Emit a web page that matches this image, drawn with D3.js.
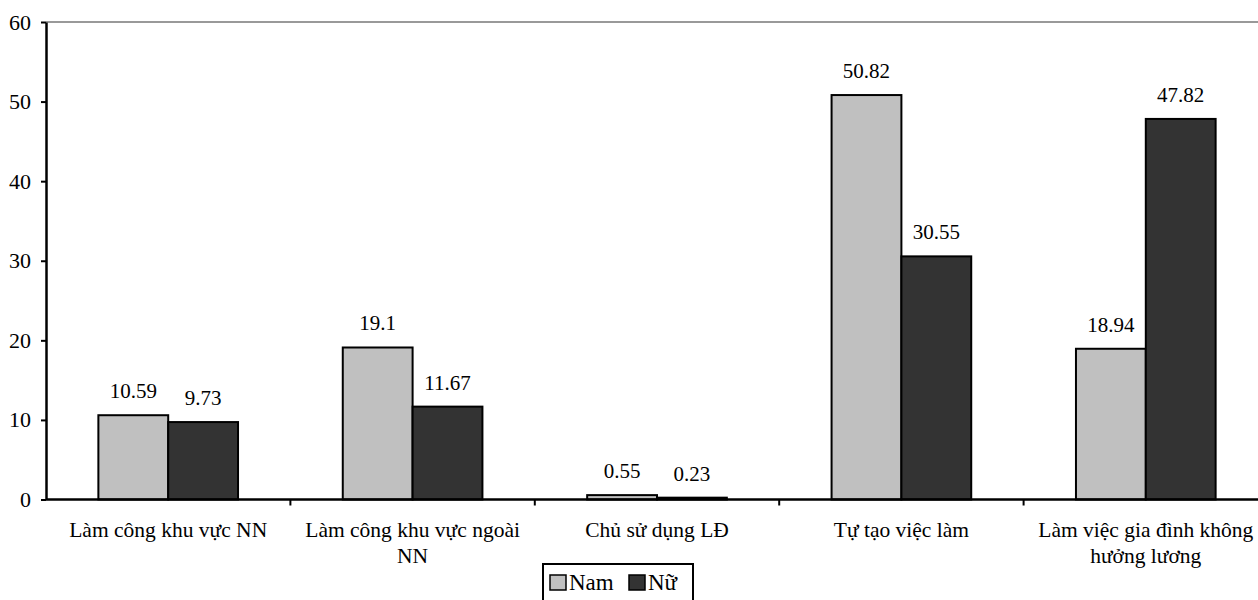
<!DOCTYPE html>
<html>
<head>
<meta charset="utf-8">
<script src="https://cdn.jsdelivr.net/npm/d3@7"></script>
<style>
  body { margin: 0; background: #fff; }
</style>
</head>
<body>
<svg id="chart"></svg>
<script>
const categories = [
  ["Làm công khu vực NN"],
  ["Làm công khu vực ngoài", "NN"],
  ["Chủ sử dụng LĐ"],
  ["Tự tạo việc làm"],
  ["Làm việc gia đình không", "hưởng lương"]
];
const namValues = [10.59, 19.1, 0.55, 50.82, 18.94];
const nuValues = [9.73, 11.67, 0.23, 30.55, 47.82];
const seriesNames = ["Nam", "Nữ"];
const seriesColors = ["#c0c0c0", "#333333"];
const yTicks = [0, 10, 20, 30, 40, 50, 60];

const width = 1258, height = 600;
const margin = { top: 22, left: 46 };
const plotRight = 1268;
const font = `"Liberation Serif", "Times New Roman", serif`;

const svg = d3.select("#chart")
  .attr("width", width).attr("height", height);

const x = d3.scaleBand()
  .domain(d3.range(categories.length))
  .range([margin.left, plotRight]);

// two bars per group, Excel-like gap width
const inner = d3.scaleBand()
  .domain([0, 1])
  .range([0, x.bandwidth()])
  .paddingInner(0)
  .paddingOuter(0.75);

const y = d3.scaleLinear().domain([0, 60]).range([499.5, margin.top]);

// top border line (gray)
svg.append("line")
  .attr("x1", margin.left).attr("x2", width)
  .attr("y1", y(60)).attr("y2", y(60))
  .attr("stroke", "#999").attr("stroke-width", 2);

// bars + value labels
const series = [namValues, nuValues];
series.forEach((vals, s) => {
  svg.append("g").selectAll("rect")
    .data(vals)
    .join("rect")
    .attr("x", (d, i) => x(i) + inner(s))
    .attr("y", d => y(d))
    .attr("width", inner.bandwidth())
    .attr("height", d => y(0) - y(d))
    .attr("fill", seriesColors[s])
    .attr("stroke", "#000")
    .attr("stroke-width", 2);

  svg.append("g").selectAll("text")
    .data(vals)
    .join("text")
    .attr("x", (d, i) => x(i) + inner(s) + inner.bandwidth() / 2)
    .attr("y", d => y(d) - 17)
    .attr("text-anchor", "middle")
    .style("font-family", font)
    .style("font-size", "21px")
    .text(d => d);
});

// y axis
const yAxis = svg.append("g")
  .attr("transform", `translate(${margin.left},0)`)
  .call(d3.axisLeft(y).tickValues(yTicks).tickSize(5).tickPadding(10).tickSizeOuter(0));
yAxis.select(".domain").attr("stroke", "#000").attr("stroke-width", 2.5);
yAxis.selectAll(".tick line").attr("stroke", "#000").attr("stroke-width", 2);
yAxis.selectAll(".tick text")
  .style("font-family", font)
  .style("font-size", "22px")
  .attr("fill", "#000");

// x axis
svg.append("line")
  .attr("x1", margin.left).attr("x2", width)
  .attr("y1", y(0)).attr("y2", y(0))
  .attr("stroke", "#000").attr("stroke-width", 2.5);

svg.append("g").selectAll("line")
  .data(d3.range(1, categories.length + 1))
  .join("line")
  .attr("x1", i => x.step() * i + margin.left)
  .attr("x2", i => x.step() * i + margin.left)
  .attr("y1", y(0)).attr("y2", y(0) + 6)
  .attr("stroke", "#000").attr("stroke-width", 2);

// category labels
const labels = svg.append("g").selectAll("text")
  .data(categories)
  .join("text")
  .attr("x", (d, i) => x(i) + x.bandwidth() / 2)
  .attr("y", 537)
  .attr("text-anchor", "middle")
  .style("font-family", font)
  .style("font-size", "21.5px");
labels.selectAll("tspan")
  .data(d => d)
  .join("tspan")
  .attr("x", function() { return this.parentNode.getAttribute("x"); })
  .attr("dy", (d, j) => j === 0 ? 0 : 26)
  .text(d => d);

// legend
const legend = svg.append("g").attr("transform", "translate(543,564)");
legend.append("rect")
  .attr("x", 0).attr("y", 0).attr("width", 150).attr("height", 50)
  .attr("fill", "#fff").attr("stroke", "#000").attr("stroke-width", 2);
const legendX = [7, 86];
seriesNames.forEach((name, s) => {
  legend.append("rect")
    .attr("x", legendX[s]).attr("y", 11)
    .attr("width", 16).attr("height", 15)
    .attr("fill", seriesColors[s]).attr("stroke", "#000").attr("stroke-width", 1.5);
  legend.append("text")
    .attr("x", legendX[s] + 19).attr("y", 26)
    .style("font-family", font)
    .style("font-size", "23px")
    .text(name);
});
</script>
</body>
</html>
